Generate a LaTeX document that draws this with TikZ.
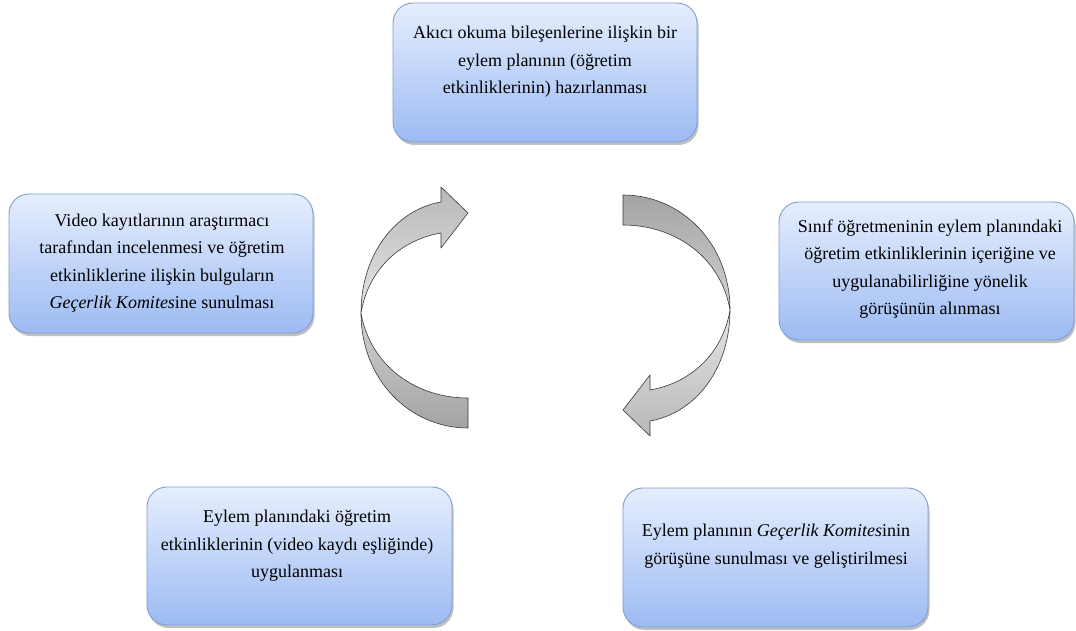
\documentclass[tikz,border=0pt]{standalone}
\usepackage{fontspec}
\setmainfont{Liberation Serif}
\usetikzlibrary{shadows}
\definecolor{boxtop}{HTML}{E6EEFD}
\definecolor{boxbot}{HTML}{9CBBF3}
\definecolor{boxline}{HTML}{7E9FD4}
\definecolor{arrline}{HTML}{3A3A3A}
\tikzset{
  stepbox/.style={draw=boxline, line width=0.9pt, rounded corners=20pt,
    top color=boxtop, bottom color=boxbot,
    drop shadow={shadow xshift=1.5pt, shadow yshift=-3pt, opacity=0.35, fill=black!70}},
  boxtext/.style={align=center, inner sep=0pt, font=\fontsize{18}{27.5}\selectfont},
  arrlight/.style={draw=arrline, line width=0.6pt, line join=round},
}
\begin{document}
\begin{tikzpicture}[x=1pt,y=-1pt]
\useasboundingbox[fill=white] (0,0) rectangle (1076,631);
% boxes
\path[stepbox] (393,3) rectangle (697,142);
\path[stepbox] (9,194) rectangle (313,333);
\path[stepbox] (779,202) rectangle (1074,340);
\path[stepbox] (147,487) rectangle (452,625);
\path[stepbox] (623,488) rectangle (928,627);
% texts
\node[boxtext] (t1) at (545,62) {Akıcı okuma bileşenlerine ilişkin bir\\eylem planının (öğretim\\etkinliklerinin) hazırlanması};
\node[boxtext] (t2) at (930,269) {Sınıf öğretmeninin eylem planındaki\\öğretim etkinliklerinin içeriğine ve\\uygulanabilirliğine yönelik\\görüşünün alınması};
\node[boxtext] (t3) at (776,546) {Eylem planının \textit{Geçerlik Komites}inin\\görüşüne sunulması ve geliştirilmesi};
\node[boxtext] (t4) at (297,546) {Eylem planındaki öğretim\\etkinliklerinin (video kaydı eşliğinde)\\uygulanması};
\node[boxtext] (t5) at (162,263) {Video kayıtlarının araştırmacı\\tarafından incelenmesi ve öğretim\\etkinliklerine ilişkin bulguların\\\textit{Geçerlik Komites}ine sunulması};
% left circular arrow
\path[arrlight, top color=black!28, bottom color=black!10]
  (361,313) .. controls (361,255) and (395,210) .. (441,202) -- (441,187) -- (468,213)
  -- (441,248) -- (441,233) .. controls (400,240) and (368,270) .. (361,313) -- cycle;
\path[arrlight, top color=black!18, bottom color=black!36]
  (361,313) .. controls (361,380) and (410,428) .. (468,428) -- (468,398)
  .. controls (415,398) and (370,365) .. (361,313) -- cycle;
% right circular arrow
\path[arrlight, bottom color=black!28, top color=black!10]
  (730,310) .. controls (730,368) and (696,413) .. (650,421) -- (650,436) -- (623,410)
  -- (650,375) -- (650,390) .. controls (691,383) and (723,353) .. (730,310) -- cycle;
\path[arrlight, bottom color=black!18, top color=black!36]
  (730,310) .. controls (730,243) and (681,195) .. (623,195) -- (623,225)
  .. controls (676,225) and (721,258) .. (730,310) -- cycle;
\end{tikzpicture}
\end{document}
